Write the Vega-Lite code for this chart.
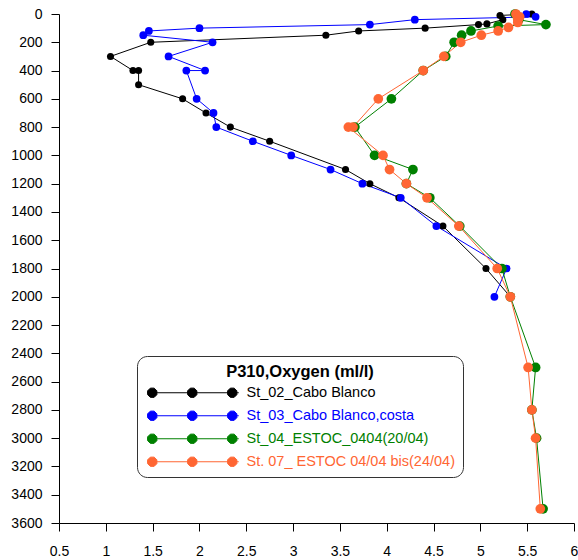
{
  "$schema": "https://vega.github.io/schema/vega-lite/v6.json",
  "autosize": "none",
  "width": 515,
  "height": 509,
  "padding": {"left": 59, "top": 14, "right": 4, "bottom": 37},
  "background": "white",
  "config": {
    "font": "Liberation Sans",
    "view": {"stroke": null},
    "axis": {"grid": false, "domainColor": "#000", "tickColor": "#000", "labelColor": "#000", "labelFont": "Liberation Sans", "labelFontSize": 14, "tickSize": 8, "domainWidth": 1, "tickWidth": 1, "labelFlush": false, "labelOverlap": false, "title": null}
  },
  "data": {"values": [
    {"series": "St_02_Cabo Blanco", "depth": 0, "oxy": 5.55},
    {"series": "St_02_Cabo Blanco", "depth": 10, "oxy": 5.21},
    {"series": "St_02_Cabo Blanco", "depth": 40, "oxy": 5.24},
    {"series": "St_02_Cabo Blanco", "depth": 70, "oxy": 5.07},
    {"series": "St_02_Cabo Blanco", "depth": 75, "oxy": 4.98},
    {"series": "St_02_Cabo Blanco", "depth": 100, "oxy": 4.41},
    {"series": "St_02_Cabo Blanco", "depth": 120, "oxy": 3.70},
    {"series": "St_02_Cabo Blanco", "depth": 150, "oxy": 3.35},
    {"series": "St_02_Cabo Blanco", "depth": 200, "oxy": 1.48},
    {"series": "St_02_Cabo Blanco", "depth": 300, "oxy": 1.05},
    {"series": "St_02_Cabo Blanco", "depth": 400, "oxy": 1.29},
    {"series": "St_02_Cabo Blanco", "depth": 400, "oxy": 1.35},
    {"series": "St_02_Cabo Blanco", "depth": 500, "oxy": 1.35},
    {"series": "St_02_Cabo Blanco", "depth": 600, "oxy": 1.82},
    {"series": "St_02_Cabo Blanco", "depth": 700, "oxy": 2.07},
    {"series": "St_02_Cabo Blanco", "depth": 800, "oxy": 2.33},
    {"series": "St_02_Cabo Blanco", "depth": 900, "oxy": 2.75},
    {"series": "St_02_Cabo Blanco", "depth": 1100, "oxy": 3.56},
    {"series": "St_02_Cabo Blanco", "depth": 1200, "oxy": 3.82},
    {"series": "St_02_Cabo Blanco", "depth": 1300, "oxy": 4.13},
    {"series": "St_02_Cabo Blanco", "depth": 1500, "oxy": 4.60},
    {"series": "St_02_Cabo Blanco", "depth": 1800, "oxy": 5.06},
    {"series": "St_02_Cabo Blanco", "depth": 2000, "oxy": 5.32},
    {"series": "St_03_Cabo Blanco,costa", "depth": 0, "oxy": 5.49},
    {"series": "St_03_Cabo Blanco,costa", "depth": 20, "oxy": 5.59},
    {"series": "St_03_Cabo Blanco,costa", "depth": 40, "oxy": 4.30},
    {"series": "St_03_Cabo Blanco,costa", "depth": 75, "oxy": 3.82},
    {"series": "St_03_Cabo Blanco,costa", "depth": 100, "oxy": 2.00},
    {"series": "St_03_Cabo Blanco,costa", "depth": 120, "oxy": 1.46},
    {"series": "St_03_Cabo Blanco,costa", "depth": 150, "oxy": 1.40},
    {"series": "St_03_Cabo Blanco,costa", "depth": 200, "oxy": 2.14},
    {"series": "St_03_Cabo Blanco,costa", "depth": 300, "oxy": 1.67},
    {"series": "St_03_Cabo Blanco,costa", "depth": 400, "oxy": 2.06},
    {"series": "St_03_Cabo Blanco,costa", "depth": 400, "oxy": 1.86},
    {"series": "St_03_Cabo Blanco,costa", "depth": 600, "oxy": 1.97},
    {"series": "St_03_Cabo Blanco,costa", "depth": 700, "oxy": 2.15},
    {"series": "St_03_Cabo Blanco,costa", "depth": 800, "oxy": 2.18},
    {"series": "St_03_Cabo Blanco,costa", "depth": 900, "oxy": 2.57},
    {"series": "St_03_Cabo Blanco,costa", "depth": 1000, "oxy": 2.98},
    {"series": "St_03_Cabo Blanco,costa", "depth": 1100, "oxy": 3.40},
    {"series": "St_03_Cabo Blanco,costa", "depth": 1200, "oxy": 3.74},
    {"series": "St_03_Cabo Blanco,costa", "depth": 1300, "oxy": 4.15},
    {"series": "St_03_Cabo Blanco,costa", "depth": 1500, "oxy": 4.53},
    {"series": "St_03_Cabo Blanco,costa", "depth": 1800, "oxy": 5.28},
    {"series": "St_03_Cabo Blanco,costa", "depth": 2000, "oxy": 5.15},
    {"series": "St_04_ESTOC_0404(20/04)", "depth": 0, "oxy": 5.37},
    {"series": "St_04_ESTOC_0404(20/04)", "depth": 40, "oxy": 5.41},
    {"series": "St_04_ESTOC_0404(20/04)", "depth": 75, "oxy": 5.70},
    {"series": "St_04_ESTOC_0404(20/04)", "depth": 85, "oxy": 5.19},
    {"series": "St_04_ESTOC_0404(20/04)", "depth": 120, "oxy": 4.90},
    {"series": "St_04_ESTOC_0404(20/04)", "depth": 150, "oxy": 4.80},
    {"series": "St_04_ESTOC_0404(20/04)", "depth": 200, "oxy": 4.72},
    {"series": "St_04_ESTOC_0404(20/04)", "depth": 300, "oxy": 4.63},
    {"series": "St_04_ESTOC_0404(20/04)", "depth": 400, "oxy": 4.39},
    {"series": "St_04_ESTOC_0404(20/04)", "depth": 600, "oxy": 4.05},
    {"series": "St_04_ESTOC_0404(20/04)", "depth": 800, "oxy": 3.66},
    {"series": "St_04_ESTOC_0404(20/04)", "depth": 1000, "oxy": 3.87},
    {"series": "St_04_ESTOC_0404(20/04)", "depth": 1100, "oxy": 4.28},
    {"series": "St_04_ESTOC_0404(20/04)", "depth": 1200, "oxy": 4.21},
    {"series": "St_04_ESTOC_0404(20/04)", "depth": 1300, "oxy": 4.46},
    {"series": "St_04_ESTOC_0404(20/04)", "depth": 1500, "oxy": 4.78},
    {"series": "St_04_ESTOC_0404(20/04)", "depth": 1800, "oxy": 5.23},
    {"series": "St_04_ESTOC_0404(20/04)", "depth": 2000, "oxy": 5.32},
    {"series": "St_04_ESTOC_0404(20/04)", "depth": 2500, "oxy": 5.59},
    {"series": "St_04_ESTOC_0404(20/04)", "depth": 2800, "oxy": 5.55},
    {"series": "St_04_ESTOC_0404(20/04)", "depth": 3000, "oxy": 5.60},
    {"series": "St_04_ESTOC_0404(20/04)", "depth": 3500, "oxy": 5.67},
    {"series": "St. 07_ ESTOC 04/04 bis(24/04)", "depth": 0, "oxy": 5.38},
    {"series": "St. 07_ ESTOC 04/04 bis(24/04)", "depth": 20, "oxy": 5.42},
    {"series": "St. 07_ ESTOC 04/04 bis(24/04)", "depth": 40, "oxy": 5.40},
    {"series": "St. 07_ ESTOC 04/04 bis(24/04)", "depth": 60, "oxy": 5.40},
    {"series": "St. 07_ ESTOC 04/04 bis(24/04)", "depth": 95, "oxy": 5.30},
    {"series": "St. 07_ ESTOC 04/04 bis(24/04)", "depth": 120, "oxy": 5.19},
    {"series": "St. 07_ ESTOC 04/04 bis(24/04)", "depth": 150, "oxy": 5.01},
    {"series": "St. 07_ ESTOC 04/04 bis(24/04)", "depth": 200, "oxy": 4.79},
    {"series": "St. 07_ ESTOC 04/04 bis(24/04)", "depth": 300, "oxy": 4.61},
    {"series": "St. 07_ ESTOC 04/04 bis(24/04)", "depth": 400, "oxy": 4.39},
    {"series": "St. 07_ ESTOC 04/04 bis(24/04)", "depth": 600, "oxy": 3.91},
    {"series": "St. 07_ ESTOC 04/04 bis(24/04)", "depth": 800, "oxy": 3.64},
    {"series": "St. 07_ ESTOC 04/04 bis(24/04)", "depth": 800, "oxy": 3.59},
    {"series": "St. 07_ ESTOC 04/04 bis(24/04)", "depth": 1000, "oxy": 3.96},
    {"series": "St. 07_ ESTOC 04/04 bis(24/04)", "depth": 1100, "oxy": 4.03},
    {"series": "St. 07_ ESTOC 04/04 bis(24/04)", "depth": 1200, "oxy": 4.21},
    {"series": "St. 07_ ESTOC 04/04 bis(24/04)", "depth": 1300, "oxy": 4.43},
    {"series": "St. 07_ ESTOC 04/04 bis(24/04)", "depth": 1500, "oxy": 4.77},
    {"series": "St. 07_ ESTOC 04/04 bis(24/04)", "depth": 1800, "oxy": 5.18},
    {"series": "St. 07_ ESTOC 04/04 bis(24/04)", "depth": 2000, "oxy": 5.32},
    {"series": "St. 07_ ESTOC 04/04 bis(24/04)", "depth": 2500, "oxy": 5.51},
    {"series": "St. 07_ ESTOC 04/04 bis(24/04)", "depth": 2800, "oxy": 5.55},
    {"series": "St. 07_ ESTOC 04/04 bis(24/04)", "depth": 3000, "oxy": 5.59},
    {"series": "St. 07_ ESTOC 04/04 bis(24/04)", "depth": 3500, "oxy": 5.64}
  ]},
  "encoding": {
    "x": {"field": "oxy", "type": "quantitative",
      "scale": {"domain": [0.5, 6], "nice": false, "zero": false},
      "axis": {"orient": "bottom", "values": [0.5, 1, 1.5, 2, 2.5, 3, 3.5, 4, 4.5, 5, 5.5, 6], "labelExpr": "'' + datum.value", "labelPadding": 13}},
    "y": {"field": "depth", "type": "quantitative",
      "scale": {"domain": [0, 3600], "reverse": true, "nice": false},
      "axis": {"values": [0, 200, 400, 600, 800, 1000, 1200, 1400, 1600, 1800, 2000, 2200, 2400, 2600, 2800, 3000, 3200, 3400, 3600], "format": "d", "labelPadding": 9}},
    "color": {"field": "series", "type": "nominal",
      "scale": {"domain": ["St_02_Cabo Blanco", "St_03_Cabo Blanco,costa", "St_04_ESTOC_0404(20/04)", "St. 07_ ESTOC 04/04 bis(24/04)"], "range": ["#000000", "#0000FF", "#008000", "#FF6633"]},
      "legend": {
        "title": "P310,Oxygen (ml/l)",
        "orient": "none",
        "legendX": 78,
        "legendY": 342,
        "direction": "vertical",
        "fillColor": "white",
        "strokeColor": "#333333",
        "cornerRadius": 10,
        "padding": 8,
        "titleFont": "Liberation Sans",
        "titleFontSize": 16.5,
        "titleFontWeight": "bold",
        "titleColor": "#000",
        "titleAnchor": "middle",
        "titlePadding": 5,
        "labelFont": "Liberation Sans",
        "labelFontSize": 14.5,
        "labelOffset": 87,
        "labelLimit": 400,
        "rowPadding": 8,
        "symbolSize": 100,
        "symbolStrokeWidth": 1,
        "symbolType": "M-1,0L17.3,0M0.924,0.383L0.383,0.924L-0.383,0.924L-0.924,0.383L-0.924,-0.383L-0.383,-0.924L0.383,-0.924L0.924,-0.383ZM8.924,0.383L8.383,0.924L7.617,0.924L7.076,0.383L7.076,-0.383L7.617,-0.924L8.383,-0.924L8.924,-0.383ZM16.924,0.383L16.383,0.924L15.617,0.924L15.076,0.383L15.076,-0.383L15.617,-0.924L16.383,-0.924L16.924,-0.383Z",
        "encode": {
          "symbols": {"update": {"fill": {"signal": "scale('color', datum.value)"}, "stroke": {"signal": "scale('color', datum.value)"}, "strokeWidth": {"value": 1}, "size": {"value": 100}, "opacity": {"value": 1}}},
          "labels": {"update": {"fill": {"signal": "scale('color', datum.value)"}}}
        }
      }
    }
  },
  "layer": [
    {"mark": {"type": "line", "strokeWidth": 1, "clip": false}, "encoding": {"order": {"value": null}}},
    {"transform": [{"filter": "datum.series === 'St_02_Cabo Blanco'"}],
     "mark": {"type": "point", "filled": true, "shape": "circle", "opacity": 1, "size": 50}},
    {"transform": [{"filter": "datum.series === 'St_03_Cabo Blanco,costa'"}],
     "mark": {"type": "point", "filled": true, "shape": "circle", "opacity": 1, "size": 60}},
    {"transform": [{"filter": "datum.series === 'St_04_ESTOC_0404(20/04)' || datum.series === 'St. 07_ ESTOC 04/04 bis(24/04)'"}],
     "mark": {"type": "point", "filled": true, "shape": "circle", "opacity": 1, "size": 95}}
  ]
}
